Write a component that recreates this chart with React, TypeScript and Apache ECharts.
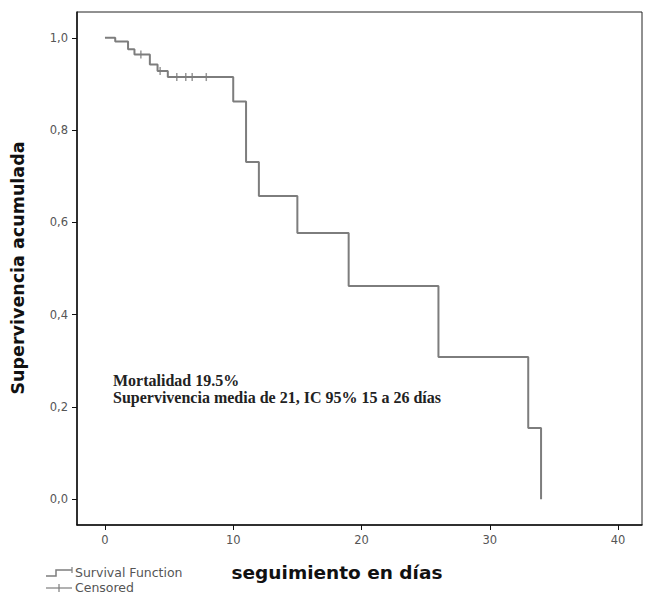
import React, { useEffect, useRef } from "react";
import * as echarts from "echarts";

const times = [0, 0.8, 1.8, 2.3, 3.5, 4.1, 4.9, 10, 11, 12, 15, 19, 26, 33, 34];
const survival = [1.0, 0.992, 0.975, 0.964, 0.942, 0.928, 0.915, 0.862, 0.731, 0.657, 0.577, 0.462, 0.308, 0.154, 0.0];
const censoredTimes = [2.8, 4.3, 5.6, 6.3, 6.8, 7.9];
const censoredSurvival = [0.964, 0.928, 0.915, 0.915, 0.915, 0.915];
const xTicks = [0, 10, 20, 30, 40];
const yTicks = [0, 0.2, 0.4, 0.6, 0.8, 1.0];
const annotationLines = ["Mortalidad 19.5%", "Supervivencia media de 21, IC 95% 15 a 26 días"];
const xTitle = "seguimiento en días";
const yTitle = "Supervivencia acumulada";
const legendNames = ["Survival Function", "Censored"];

export default function App() {
  const ref = useRef<HTMLDivElement>(null);
  useEffect(() => {
    if (!ref.current) return;
    const chart = echarts.init(ref.current, null, { renderer: "svg" });
    const lineColor = "#7d7d7d";
    const labelFont = { fontFamily: "DejaVu Sans", fontSize: 11.5, color: "#555" };
    chart.setOption({
      animation: false,
      backgroundColor: "#fff",
      grid: {
        left: 77,
        top: 12,
        right: 7,
        bottom: 71,
        show: true,
        borderColor: "#222",
        borderWidth: 1,
        backgroundColor: "#fff",
      },
      xAxis: {
        type: "value",
        min: -2.18,
        max: 41.87,
        axisLine: { show: true, onZero: false, lineStyle: { color: "#111", width: 1.5 } },
        axisTick: { show: true, customValues: xTicks, length: 5, lineStyle: { color: "#111" } },
        axisLabel: { ...labelFont, customValues: xTicks, margin: 9, formatter: (v: number) => String(v) },
        splitLine: { show: false },
      },
      yAxis: {
        type: "value",
        min: -0.056,
        max: 1.056,
        axisLine: { show: true, onZero: false, lineStyle: { color: "#111", width: 1.5 } },
        axisTick: { show: true, customValues: yTicks, length: 5, lineStyle: { color: "#111" } },
        axisLabel: {
          ...labelFont,
          customValues: yTicks,
          margin: 9,
          formatter: (v: number) => v.toFixed(1).replace(".", ","),
        },
        splitLine: { show: false },
      },
      series: [
        {
          type: "line",
          step: "end",
          data: times.map((t, i) => [t, survival[i]]),
          symbol: "none",
          lineStyle: { color: lineColor, width: 2 },
        },
        {
          type: "scatter",
          data: censoredTimes.map((t, i) => [t, censoredSurvival[i]]),
          symbol: "rect",
          symbolSize: [1.5, 8],
          itemStyle: { color: lineColor },
        },
      ],
      graphic: [
        {
          type: "text",
          left: 113,
          top: 372,
          style: {
            text: annotationLines.join("\n"),
            font: "bold 16px 'Liberation Serif'",
            lineHeight: 17,
            fill: "#222",
          },
        },
        {
          type: "text",
          x: 18,
          y: 268,
          rotation: Math.PI / 2,
          style: {
            text: yTitle,
            font: "bold 17.5px 'DejaVu Sans'",
            fill: "#111",
            align: "center",
            verticalAlign: "middle",
          },
        },
        {
          type: "text",
          x: 337,
          y: 572,
          style: {
            text: xTitle,
            font: "bold 18.5px 'DejaVu Sans'",
            fill: "#111",
            align: "center",
            verticalAlign: "middle",
          },
        },
        {
          type: "polyline",
          shape: { points: [[46, 576], [56, 576], [56, 570], [72, 570]] },
          style: { stroke: lineColor, lineWidth: 1.5, fill: null },
        },
        {
          type: "line",
          shape: { x1: 72, y1: 567, x2: 72, y2: 573 },
          style: { stroke: lineColor, lineWidth: 1.2 },
        },
        {
          type: "line",
          shape: { x1: 46, y1: 588, x2: 72, y2: 588 },
          style: { stroke: lineColor, lineWidth: 1.2 },
        },
        {
          type: "line",
          shape: { x1: 59, y1: 584, x2: 59, y2: 592 },
          style: { stroke: lineColor, lineWidth: 1.2 },
        },
        {
          type: "text",
          x: 75,
          y: 572,
          style: {
            text: legendNames[0],
            font: "12.5px 'DejaVu Sans'",
            fill: "#555",
            verticalAlign: "middle",
          },
        },
        {
          type: "text",
          x: 75,
          y: 587.5,
          style: {
            text: legendNames[1],
            font: "12.5px 'DejaVu Sans'",
            fill: "#555",
            verticalAlign: "middle",
          },
        },
      ],
    });
    return () => chart.dispose();
  }, []);
  return (
    <div
      ref={ref}
      style={{ position: "fixed", left: 0, top: 0, width: 649, height: 596 }}
    />
  );
}
